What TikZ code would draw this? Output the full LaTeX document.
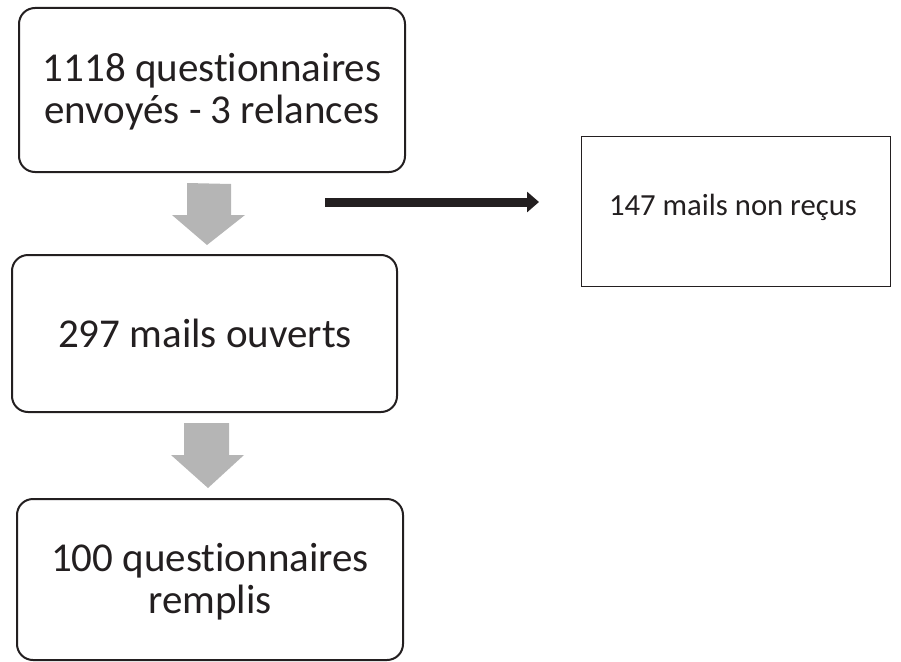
\documentclass[tikz,border=0pt]{standalone}
\usepackage{fontspec}
\setmainfont{Carlito}[Ligatures={NoCommon}]
\usetikzlibrary{arrows.meta}
\definecolor{txt}{HTML}{231F20}
\definecolor{arrowgray}{HTML}{B5B5B5}
\tikzset{
  roundbox/.style={draw=txt, line width=2pt, rounded corners=16pt, fill=white},
  bigtext/.style={text=txt, font=\fontsize{41}{42}\selectfont, align=center},
  plainbox/.style={draw=txt, line width=1pt},
  smalltext/.style={text=txt, font=\fontsize{30.7}{34}\selectfont},
  grayarrow/.style={fill=arrowgray, draw=none},
  blackarrow/.style={draw=txt, line width=9pt, -{Triangle[length=12pt,width=20pt]}}
}
\begin{document}
\begin{tikzpicture}[x=1pt,y=-1pt]
\useasboundingbox (0,0) rectangle (901,661);
% boxes
\draw[roundbox] (19,8) rectangle (405,172);
\node[bigtext] (b1) at (212,92) {1118 questionnaires\\envoyés - 3 relances};
\draw[roundbox] (12,255) rectangle (397,412);
\node[bigtext] (b2) at (205,333) {297 mails ouverts};
\draw[roundbox] (17,499) rectangle (403,660);
\node[bigtext] (b3) at (210,582) {100 questionnaires\\remplis};
\draw[plainbox] (581,136) rectangle (890,286);
\node[smalltext] (b4) at (733,207) {147 mails non reçus};
% gray arrows
\fill[grayarrow] (187,183) -- (231,184) -- (231,215) -- (245,215) -- (207,245) -- (172,215) -- (187,215) -- cycle;
\fill[grayarrow] (184,423) -- (229,423) -- (229,455) -- (244,455) -- (208,488) -- (171,455) -- (184,455) -- cycle;
% black arrow
\coordinate (s) at (325,202);
\coordinate (e) at (539,202);
\draw[blackarrow] (s) -- (e);
\end{tikzpicture}
\end{document}
